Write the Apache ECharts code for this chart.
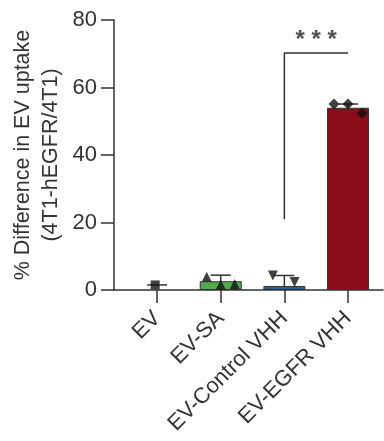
<!DOCTYPE html>
<html><head><meta charset="utf-8">
<script src="https://cdn.jsdelivr.net/npm/echarts@6/dist/echarts.min.js"></script>
<style>html,body{margin:0;padding:0;background:#fff}#c{width:384px;height:441px}</style>
</head><body><div id="c"></div>
<script>
const categories = ['EV', 'EV-SA', 'EV-Control VHH', 'EV-EGFR VHH'];
const barMeans = [1.5, 2.6, 1.2, 54.0];
const errUpper = [1.5, 4.4, 4.3, 55.1];
const barColors = ['rgba(0,0,0,0)', '#4fac4c', '#22638f', '#8b0d1a'];
const pointsEV = [1.5];
const pointsSA = [3.9, 1.6, 1.8];
const pointsCtrl = [4.3, 2.4];
const pointsEGFR = [55.1, 55.1, 52.4];
const bracket = [[2, 21], [2, 70.2], [3, 70.2]];
const sigLabel = '* * *';
const sigPos = [2.5, 74];
const yTicks = [0, 20, 40, 60, 80];

const font = "'Liberation Sans', Arial, sans-serif";
const offsets = [[-0.22, 0, 0.22], [-0.22, 0, 0.22], [-0.18, 0.16], [-0.22, 0.0, 0.22]];
function pts(arr, ci) { return arr.map((v, i) => [ci + (arr.length === 1 ? -0.03 : offsets[ci][i]), v]); }

const chart = echarts.init(document.getElementById('c'));
chart.setOption({
  animation: false,
  grid: { left: 114, right: 1, top: 20, bottom: 151 },
  xAxis: {
    type: 'value', min: -0.677, max: 3.55,
    axisLine: { onZero: true, lineStyle: { color: '#333', width: 1.5 } },
    axisTick: { show: true, length: 13, customValues: [0, 1, 2, 3], lineStyle: { color: '#333', width: 1.5 } },
    axisLabel: {
      customValues: [0, 1, 2, 3], rotate: 45, margin: 25,
      fontSize: 22, fontFamily: font, color: '#333',
      formatter: v => categories[Math.round(v)]
    },
    splitLine: { show: false }
  },
  yAxis: {
    type: 'value', min: 0, max: 80, interval: 20,
    name: '% Difference in EV uptake\n(4T1-hEGFR/4T1)',
    nameLocation: 'middle', nameRotate: 90, nameGap: 49, nameMoveOverlap: false,
    nameTextStyle: { fontSize: 21.5, fontFamily: font, color: '#333', lineHeight: 28 },
    axisLine: { show: true, onZero: false, lineStyle: { color: '#333', width: 1.5 } },
    axisTick: { show: true, length: 13, lineStyle: { color: '#333', width: 1.5 } },
    axisLabel: { fontSize: 22, fontFamily: font, color: '#333', margin: 17,
      formatter: v => yTicks.includes(v) ? String(v) : '' },
    splitLine: { show: false }
  },
  series: [
    {
      type: 'bar', barWidth: 42, z: 2,
      data: barMeans.map((v, i) => ({ value: [i, v], itemStyle: { color: barColors[i], borderColor: i === 0 ? 'rgba(0,0,0,0)' : '#333', borderWidth: 1 } }))
    },
    {
      type: 'custom', z: 3,
      renderItem: (params, api) => {
        const x = api.value(0), m = api.value(1), u = api.value(2);
        const p0 = api.coord([x, m]), p1 = api.coord([x, u]);
        const hw = 10;
        return { type: 'group', children: [
          { type: 'line', shape: { x1: p0[0], y1: p0[1], x2: p1[0], y2: p1[1] }, style: { stroke: '#333', lineWidth: 1.5 } },
          { type: 'line', shape: { x1: p1[0] - hw, y1: p1[1], x2: p1[0] + hw, y2: p1[1] }, style: { stroke: '#333', lineWidth: 1.5 } }
        ] };
      },
      data: barMeans.map((v, i) => [i, v, errUpper[i]])
    },
    { type: 'scatter', symbol: 'rect', symbolSize: 9, itemStyle: { color: '#111' }, z: 4, data: pts(pointsEV, 0) },
    { type: 'scatter', symbol: 'triangle', symbolSize: 10, itemStyle: { color: '#111' }, z: 4, data: pts(pointsSA, 1) },
    { type: 'scatter', symbol: 'triangle', symbolRotate: 180, symbolSize: 10, itemStyle: { color: '#111' }, z: 4, data: pts(pointsCtrl, 2) },
    { type: 'scatter', symbol: 'diamond', symbolSize: 11, itemStyle: { color: '#111' }, z: 4, data: pts(pointsEGFR, 3) },
    { type: 'line', symbol: 'none', lineStyle: { color: '#333', width: 1.5 }, z: 3, data: bracket },
    { type: 'scatter', symbolSize: 0, z: 5, data: [sigPos],
      label: { show: true, position: 'inside', formatter: sigLabel, fontSize: 24, fontWeight: 'bold', fontFamily: font, color: '#222' } }
  ]
});
</script></body></html>
